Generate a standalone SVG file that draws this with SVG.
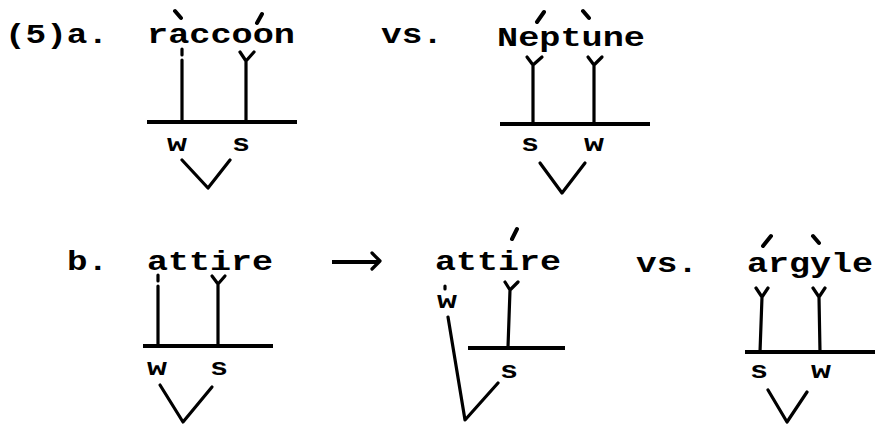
<svg xmlns="http://www.w3.org/2000/svg" width="875" height="425" viewBox="0 0 875 425">
<style>
.t{font-family:"Liberation Mono","DejaVu Sans Mono",monospace;font-weight:bold;font-size:27px;fill:#000}
.l{font-family:"Liberation Mono","DejaVu Sans Mono",monospace;font-weight:bold;font-size:23px;fill:#000}
.s{stroke:#000;stroke-width:3.2;fill:none;stroke-linecap:round;stroke-linejoin:round}
.h{stroke:#000;stroke-width:4;fill:none;stroke-linecap:butt}
.a{stroke:#000;stroke-width:4;fill:none;stroke-linecap:round}
</style>
<rect width="875" height="425" fill="#fff"/>
<g id="label-a"><text class="t" x="5" y="43" textLength="103" lengthAdjust="spacingAndGlyphs">(5)a.</text></g>
<g id="raccoon">
<text class="t" x="147" y="43" textLength="148" lengthAdjust="spacingAndGlyphs">raccoon</text>
<text class="l" x="167" y="151" textLength="20" lengthAdjust="spacingAndGlyphs">w</text>
<text class="l" x="232" y="151" textLength="18" lengthAdjust="spacingAndGlyphs">s</text>
</g>
<g id="vs1"><text class="t" x="381" y="43" textLength="62" lengthAdjust="spacingAndGlyphs">vs.</text></g>
<g id="neptune">
<text class="t" x="497" y="46" textLength="148" lengthAdjust="spacingAndGlyphs">Neptune</text>
<text class="l" x="521" y="151" textLength="18" lengthAdjust="spacingAndGlyphs">s</text>
<text class="l" x="584" y="151" textLength="20" lengthAdjust="spacingAndGlyphs">w</text>
</g>
<g id="label-b"><text class="t" x="67" y="270" textLength="41" lengthAdjust="spacingAndGlyphs">b.</text></g>
<g id="attire1">
<text class="t" x="147" y="270" textLength="126" lengthAdjust="spacingAndGlyphs">attire</text>
<text class="l" x="147" y="375" textLength="20" lengthAdjust="spacingAndGlyphs">w</text>
<text class="l" x="210" y="375" textLength="18" lengthAdjust="spacingAndGlyphs">s</text>
</g>
<g id="attire2">
<text class="t" x="435" y="270" textLength="126" lengthAdjust="spacingAndGlyphs">attire</text>
<text class="l" x="437" y="308" textLength="20" lengthAdjust="spacingAndGlyphs">w</text>
<text class="l" x="500" y="378" textLength="18" lengthAdjust="spacingAndGlyphs">s</text>
</g>
<g id="vs2"><text class="t" x="636" y="272" textLength="62" lengthAdjust="spacingAndGlyphs">vs.</text></g>
<g id="argyle">
<text class="t" x="747" y="272" textLength="126" lengthAdjust="spacingAndGlyphs">argyle</text>
<text class="l" x="750" y="378" textLength="18" lengthAdjust="spacingAndGlyphs">s</text>
<text class="l" x="811" y="378" textLength="20" lengthAdjust="spacingAndGlyphs">w</text>
</g>
<g id="connectors">
<path class="a" d="M175 11 L181 18 M262 14 L257 23 M544 12 L537 22 M583 11 L589 18 M517 229 L512 239 M771 236 L763 246 M813 236 L819 243"/>
<path class="s" d="M182 49 V55 M182 60 V122 M240 52 L246 61 L254 52 M246 61 V122 M182 160 L208 188 L230 160"/>
<path class="h" d="M147 122 H297"/>
<path class="s" d="M527 57 L533 65 L542 57 M533 65 V124 M588 57 L594 65 L602 57 M594 65 V124 M540 163 L562 193 L585 163"/>
<path class="h" d="M500 124 H650"/>
<path class="s" d="M158 275 V281 M158 286 V346 M212 276 L218 284 L225 276 M218 284 V346 M160 385 L183 422 L212 387"/>
<path class="h" d="M143 346 H273"/>
<path class="h" d="M332 262 H378"/>
<path class="s" d="M372 253 L380 261 L372 269"/>
<path class="s" d="M445 286 V289 M505 282 L510 290 L518 282 M510 290 L508 347 M448 317 L465 420 L498 383"/>
<path class="h" d="M468 348 H565"/>
<path class="s" d="M756 288 L762 297 L768 288 M762 297 L760 352 M813 288 L819 297 L825 288 M819 297 L820 352 M768 390 L787 422 L807 392"/>
<path class="h" d="M745 352 H875"/>
</g>
</svg>
